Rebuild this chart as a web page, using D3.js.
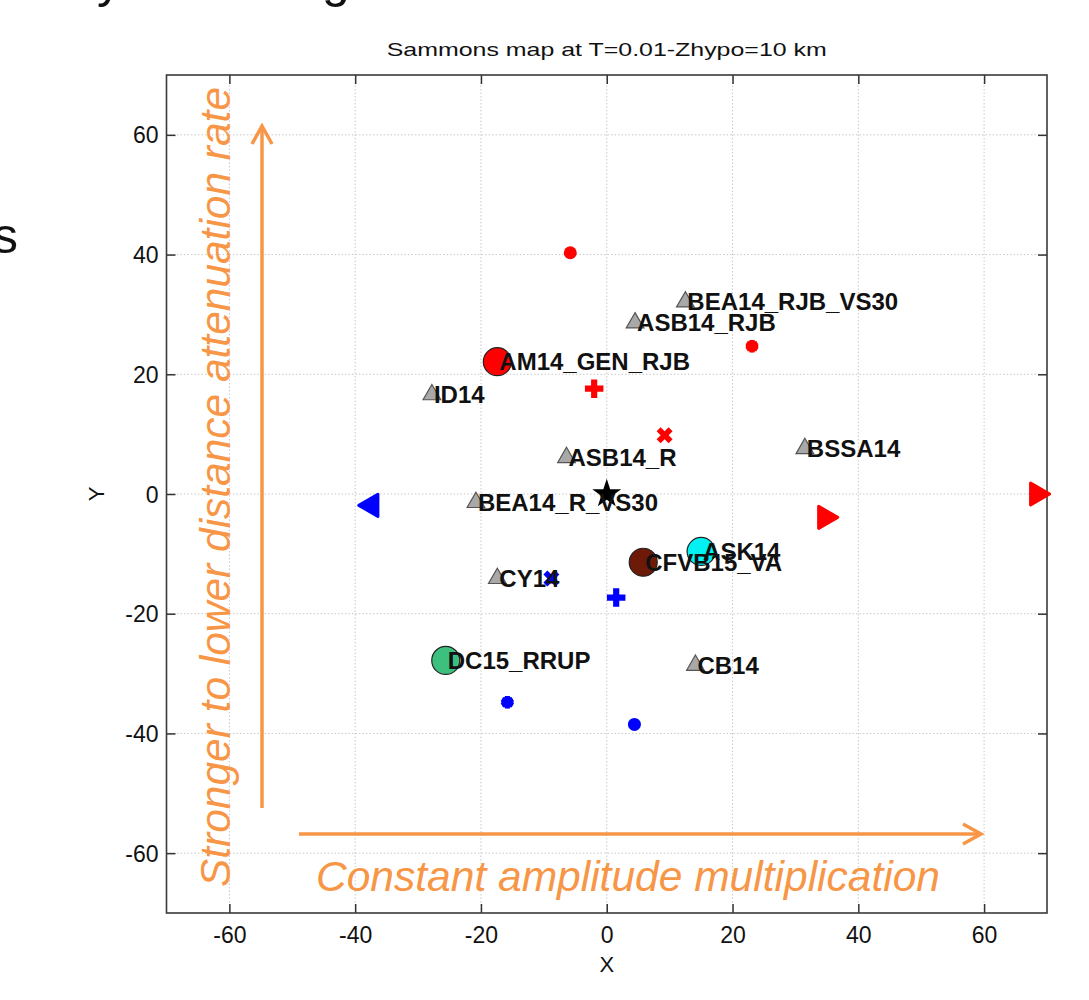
<!DOCTYPE html>
<html>
<head>
<meta charset="utf-8">
<script src="https://cdn.jsdelivr.net/npm/d3@7/dist/d3.min.js"></script>
<style>
  html, body { margin: 0; padding: 0; background: #fff; }
  svg { display: block; font-family: Arial, "Liberation Sans", Helvetica, sans-serif; }
</style>
</head>
<body>
<svg id="chart" width="1089" height="1000"></svg>
<script>
// Ground-motion models placed on the Sammons map
const modelNames = ["BEA14_RJB_VS30", "ASB14_RJB", "AM14_GEN_RJB", "ID14", "ASB14_R", "BSSA14",
                    "BEA14_R_VS30", "ASK14", "CFVB15_VA", "CY14", "DC15_RRUP", "CB14"];
const modelX = [12.5, 4.5, -17.4, -27.8, -6.4, 31.5, -20.8, 15.0, 5.8, -17.4, -25.6, 14.1];
const modelY = [32.1, 28.6, 22.1, 16.6, 6.1, 7.6, -1.4, -9.6, -11.4, -14.1, -27.8, -28.6];
const modelMarker = ["triangle", "triangle", "circle", "triangle", "triangle", "triangle",
                     "triangle", "circle", "circle", "triangle", "circle", "triangle"];

// Reference scenarios (red: stronger, blue: weaker)
const scenarioX = [-5.8, 23.1, -2.0, 9.2, 34.7, 68.4, -37.4, -8.8, 1.5, -15.8, 4.4];
const scenarioY = [40.3, 24.7, 17.6, 9.8, -3.9, 0.0, -1.9, -14.1, -17.3, -34.8, -38.5];
const scenarioShape = ["dot", "asterisk", "plus", "cross", "right", "right",
                       "left", "cross", "plus", "asterisk", "dot"];
const scenarioGroup = ["up", "up", "up", "up", "up", "up", "down", "down", "down", "down", "down"];

// Centre (origin) marker
const centreX = [0];
const centreY = [0];

// Axis ticks
const xTicks = [-60, -40, -20, 0, 20, 40, 60];
const yTicks = [-60, -40, -20, 0, 20, 40, 60];
const xDomain = [-70, 70];
const yDomain = [-70, 70];

const circleFill = {
  "AM14_GEN_RJB": "#ff0000",
  "ASK14": "#00f2f2",
  "CFVB15_VA": "#6e1a08",
  "DC15_RRUP": "#3dbf7e"
};
const groupColor = { up: "#ff0000", down: "#0000ff" };
const orange = "#f79646";

const svg = d3.select("#chart");
const plot = { left: 166.5, right: 1047, top: 75, bottom: 913 };

const x = d3.scaleLinear().domain(xDomain).range([plot.left, plot.right]);
const y = d3.scaleLinear().domain(yDomain).range([plot.bottom, plot.top]);

// Fragments of surrounding slide text
svg.append("text").attr("x", -7).attr("y", 253).attr("font-size", 50).attr("fill", "#111").text("s");
svg.append("text").attr("x", 97).attr("y", -3).attr("font-size", 50).attr("fill", "#111").text("y");
svg.append("text").attr("x", 322).attr("y", -3).attr("font-size", 50).attr("fill", "#111").text("g");

// Title
svg.append("text")
  .attr("x", (plot.left + plot.right) / 2).attr("y", 56)
  .attr("text-anchor", "middle").attr("font-size", 19).attr("fill", "#111")
  .attr("textLength", 440).attr("lengthAdjust", "spacingAndGlyphs")
  .text("Sammons map at T=0.01-Zhypo=10 km");

// Grid
const grid = svg.append("g").attr("stroke", "#c9c9c9").attr("stroke-width", 1).attr("stroke-dasharray", "1.5,2");
grid.selectAll("line.gx").data(xTicks).join("line")
  .attr("x1", d => x(d)).attr("x2", d => x(d)).attr("y1", plot.top).attr("y2", plot.bottom);
grid.selectAll("line.gy").data(yTicks).join("line")
  .attr("y1", d => y(d)).attr("y2", d => y(d)).attr("x1", plot.left).attr("x2", plot.right);

// Axes
const fmt = d => String(d);
const axisBottom = svg.append("g").attr("transform", `translate(0,${plot.bottom})`)
  .call(d3.axisBottom(x).tickValues(xTicks).tickSize(-9).tickPadding(14).tickFormat(fmt));
const axisLeft = svg.append("g").attr("transform", `translate(${plot.left},0)`)
  .call(d3.axisLeft(y).tickValues(yTicks).tickSize(-9).tickPadding(8).tickFormat(fmt));
const axisTop = svg.append("g").attr("transform", `translate(0,${plot.top})`)
  .call(d3.axisTop(x).tickValues(xTicks).tickSize(-9).tickFormat(""));
const axisRight = svg.append("g").attr("transform", `translate(${plot.right},0)`)
  .call(d3.axisRight(y).tickValues(yTicks).tickSize(-9).tickFormat(""));
[axisBottom, axisLeft, axisTop, axisRight].forEach(a => {
  a.select(".domain").remove();
  a.selectAll(".tick line").attr("stroke", "#333").attr("stroke-width", 1.5);
  a.selectAll(".tick text").attr("font-size", 23).attr("fill", "#111")
    .attr("font-family", "Arial, 'Liberation Sans', sans-serif");
});
axisLeft.selectAll(".tick text").attr("dy", "0.35em");

svg.append("rect")
  .attr("x", plot.left).attr("y", plot.top)
  .attr("width", plot.right - plot.left).attr("height", plot.bottom - plot.top)
  .attr("fill", "none").attr("stroke", "#3a3a3a").attr("stroke-width", 1.6);

// Axis labels
svg.append("text").attr("x", (plot.left + plot.right) / 2).attr("y", 972)
  .attr("text-anchor", "middle").attr("font-size", 22).attr("fill", "#111").text("X");
svg.append("text").attr("transform", `translate(104,${y(0)}) rotate(-90)`)
  .attr("text-anchor", "middle").attr("font-size", 22).attr("fill", "#111").text("Y");

// Scenario markers
const scen = d3.range(scenarioX.length).map(i => ({
  x: scenarioX[i], y: scenarioY[i], shape: scenarioShape[i], group: scenarioGroup[i]
}));
const sG = svg.append("g");
scen.forEach(d => {
  const c = groupColor[d.group];
  const tx = x(d.x), ty = y(d.y);
  if (d.shape === "dot") {
    sG.append("circle").attr("cx", tx).attr("cy", ty).attr("r", 6.5).attr("fill", c);
  } else if (d.shape === "asterisk") {
    sG.append("path").attr("d", d3.symbol(d3.symbolAsterisk, 110)())
      .attr("transform", `translate(${tx},${ty})`)
      .attr("fill", "none").attr("stroke", c).attr("stroke-width", 5);
    sG.append("circle").attr("cx", tx).attr("cy", ty).attr("r", 6).attr("fill", c);
  } else if (d.shape === "plus") {
    sG.append("path").attr("d", d3.symbol(d3.symbolCross, 190)())
      .attr("transform", `translate(${tx},${ty})`).attr("fill", c);
  } else if (d.shape === "cross") {
    sG.append("path").attr("d", d3.symbol(d3.symbolCross, 160)())
      .attr("transform", `translate(${tx},${ty}) rotate(45)`).attr("fill", c);
  } else if (d.shape === "right" || d.shape === "left") {
    sG.append("path").attr("d", d3.symbol(d3.symbolTriangle, 210)())
      .attr("transform", `translate(${tx},${ty}) rotate(${d.shape === "right" ? 90 : -90})`)
      .attr("fill", c).attr("stroke", c).attr("stroke-width", 3).attr("stroke-linejoin", "round");
  }
});

// Origin star
svg.selectAll("path.centre").data(centreX.map((v, i) => [v, centreY[i]])).join("path")
  .attr("class", "centre")
  .attr("d", d3.symbol(d3.symbolStar, 260)())
  .attr("transform", d => `translate(${x(d[0])},${y(d[1])})`)
  .attr("fill", "#000");

// Models
const models = d3.range(modelNames.length).map(i => ({
  name: modelNames[i], x: modelX[i], y: modelY[i], marker: modelMarker[i]
}));
const mG = svg.append("g");
models.forEach(d => {
  const tx = x(d.x), ty = y(d.y);
  if (d.marker === "circle") {
    mG.append("circle").attr("cx", tx).attr("cy", ty).attr("r", 14)
      .attr("fill", circleFill[d.name]).attr("stroke", "#222").attr("stroke-width", 1.2);
  } else {
    mG.append("path").attr("d", d3.symbol(d3.symbolTriangle, 135)())
      .attr("transform", `translate(${tx},${ty})`)
      .attr("fill", "#a8a8a8").attr("stroke", "#555").attr("stroke-width", 1.2);
  }
});
mG.selectAll("text").data(models).join("text")
  .attr("x", d => x(d.x) + 2).attr("y", d => y(d.y))
  .attr("dy", "0.36em")
  .attr("font-size", 24).attr("font-weight", "bold").attr("fill", "#111")
  .text(d => d.name);

// Annotation arrows
const arrows = svg.append("g").attr("stroke", orange).attr("stroke-width", 3.5)
  .attr("fill", "none").attr("stroke-linecap", "butt").attr("stroke-linejoin", "miter");
// vertical
arrows.append("line").attr("x1", 262).attr("x2", 262).attr("y1", 808).attr("y2", 127);
arrows.append("polyline").attr("points", "252,144 262,126 272,144");
// horizontal
arrows.append("line").attr("x1", 299).attr("x2", 981).attr("y1", 834).attr("y2", 834);
arrows.append("polyline").attr("points", "963,824 981,834 963,844");

svg.append("text")
  .attr("transform", "translate(230,887) rotate(-90)")
  .attr("font-size", 43).attr("font-style", "italic").attr("fill", orange)
  .attr("textLength", 800).attr("lengthAdjust", "spacingAndGlyphs")
  .text("Stronger to lower distance attenuation rate");
svg.append("text")
  .attr("x", 316).attr("y", 891)
  .attr("font-size", 43).attr("font-style", "italic").attr("fill", orange)
  .attr("textLength", 624).attr("lengthAdjust", "spacingAndGlyphs")
  .text("Constant amplitude multiplication");
</script>
</body>
</html>
